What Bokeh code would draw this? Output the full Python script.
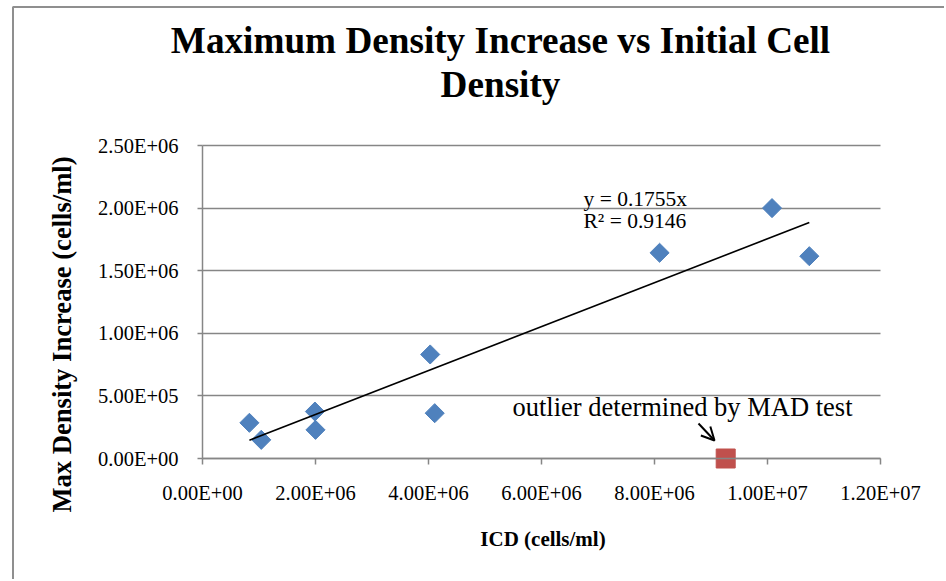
import numpy as np
from bokeh.plotting import figure
from bokeh.models import Label, Arrow, OpenHead, FixedTicker, Range1d, Grid
from bokeh.embed import file_html
from bokeh.resources import INLINE

# ---------------- data ----------------
title_lines = ["Maximum Density Increase vs Initial Cell", "Density"]
x_label = "ICD (cells/ml)"
y_label = "Max Density Increase (cells/ml)"

x_ticks = [0, 2000000, 4000000, 6000000, 8000000, 10000000, 12000000]
x_tick_labels = ["0.00E+00", "2.00E+06", "4.00E+06", "6.00E+06", "8.00E+06", "1.00E+07", "1.20E+07"]
y_ticks = [0, 500000, 1000000, 1500000, 2000000, 2500000]
y_tick_labels = ["0.00E+00", "5.00E+05", "1.00E+06", "1.50E+06", "2.00E+06", "2.50E+06"]

icd = [0.83e6, 1.04e6, 1.99e6, 2.00e6, 4.03e6, 4.11e6, 8.09e6, 10.08e6, 10.74e6]
max_increase = [0.285e6, 0.149e6, 0.375e6, 0.229e6, 0.831e6, 0.362e6, 1.643e6, 2.00e6, 1.616e6]

outlier_icd = [9.26e6]
outlier_increase = [0.0]

trend_slope = 0.1755
r_squared = 0.9146
eq_lines = ["y = %.4fx" % trend_slope, "R\u00b2 = %.4f" % r_squared]
annotation_text = "outlier determined by MAD test"

# ---------------- layout ----------------
W, H = 944, 579
# pixel position of the plot area (x: 0 .. XMAX, y: 0 .. YMAX)
PL, PR, PT, PB = 202, 880, 145, 458
XMAX, YMAX = 12000000, 2500000
GRAY = "#868686"
SERIF = "Liberation Serif"


def dx(X):
    return (X - PL) / (PR - PL) * XMAX


def dy(Y):
    return (PB - Y) / (PB - PT) * YMAX


p = figure(width=W, height=H, title=None,
           x_range=Range1d(dx(0), dx(W)), y_range=Range1d(dy(H), dy(0)),
           output_backend="svg", toolbar_location=None, min_border=0)
p.outline_line_color = None
p.background_fill_color = "white"
p.border_fill_color = "white"

# horizontal gridlines limited to the plot area
p.xgrid.visible = False
g = p.ygrid[0]
g.ticker = FixedTicker(ticks=y_ticks)
g.grid_line_color = GRAY
g.grid_line_width = 1.5
if hasattr(Grid, "cross_bounds"):
    g.cross_bounds = (0, XMAX)
else:
    g.visible = False
    p.segment(x0=[0] * len(y_ticks), x1=[XMAX] * len(y_ticks), y0=y_ticks, y1=y_ticks,
              line_color=GRAY, line_width=1.5)

# axes drawn at the data origin
p.xaxis.fixed_location = 0
p.yaxis.fixed_location = 0
p.xaxis.bounds = (0, XMAX)
p.yaxis.bounds = (0, YMAX)
p.xaxis.ticker = FixedTicker(ticks=x_ticks)
p.yaxis.ticker = FixedTicker(ticks=y_ticks)
p.xaxis.major_label_overrides = {t: l for t, l in zip(x_ticks, x_tick_labels)}
p.yaxis.major_label_overrides = {t: l for t, l in zip(y_ticks, y_tick_labels)}
for ax in (p.xaxis[0], p.yaxis[0]):
    ax.axis_line_color = GRAY
    ax.axis_line_width = 1.5
    ax.major_tick_line_color = GRAY
    ax.major_tick_line_width = 1.5
    ax.major_tick_in = 0
    ax.minor_tick_line_color = None
    ax.major_label_text_font = SERIF
    ax.major_label_text_font_size = "20.5px"
    ax.major_label_text_color = "black"
p.xaxis.major_tick_out = 6
p.xaxis.major_label_standoff = 17
p.yaxis.major_tick_out = 5
p.yaxis.major_label_standoff = 19

# data points
p.scatter(icd, max_increase, marker="square", angle=np.pi / 4, size=13.5,
          fill_color="#4F81BD", line_color="#4F81BD")
p.scatter(outlier_icd, outlier_increase, marker="square", size=19,
          fill_color="#C0504D", line_color="#C0504D")

# trendline (through origin)
tx = [min(icd), max(icd)]
p.line(tx, [trend_slope * v for v in tx], line_color="black", line_width=1.6)

# outer chart border (left and top edges)
p.line([dx(12.5), dx(12.5), dx(W + 5)], [dy(H + 5), dy(6.5), dy(6.5)],
       line_color="#8f8f8f", line_width=2)


def text(x, y, s, size, bold=False, angle=0.0, align="center"):
    p.add_layout(Label(x=dx(x), y=dy(y), text=s, angle=angle, text_align=align,
                       text_baseline="middle", text_font=SERIF, text_font_size=size,
                       text_font_style="bold" if bold else "normal", text_color="black"))


# title
text(500, 40, title_lines[0], "37.2px", bold=True)
text(500, 83.5, title_lines[1], "37.2px", bold=True)

# axis titles
text(61.5, 334, y_label, "26.6px", bold=True, angle=np.pi / 2)
text(542.5, 538, x_label, "21px", bold=True)

# trendline equation
text(583, 198, eq_lines[0], "21.5px", align="left")
text(583, 220, eq_lines[1], "21.5px", align="left")

# outlier annotation
text(512, 406.5, annotation_text, "26.5px", align="left")
p.add_layout(Arrow(end=OpenHead(size=13, line_width=2, line_color="black"),
                   x_start=dx(698), y_start=dy(423), x_end=dx(714), y_end=dy(440),
                   line_color="black", line_width=2))

open("out.html", "w").write(file_html(p, INLINE))
